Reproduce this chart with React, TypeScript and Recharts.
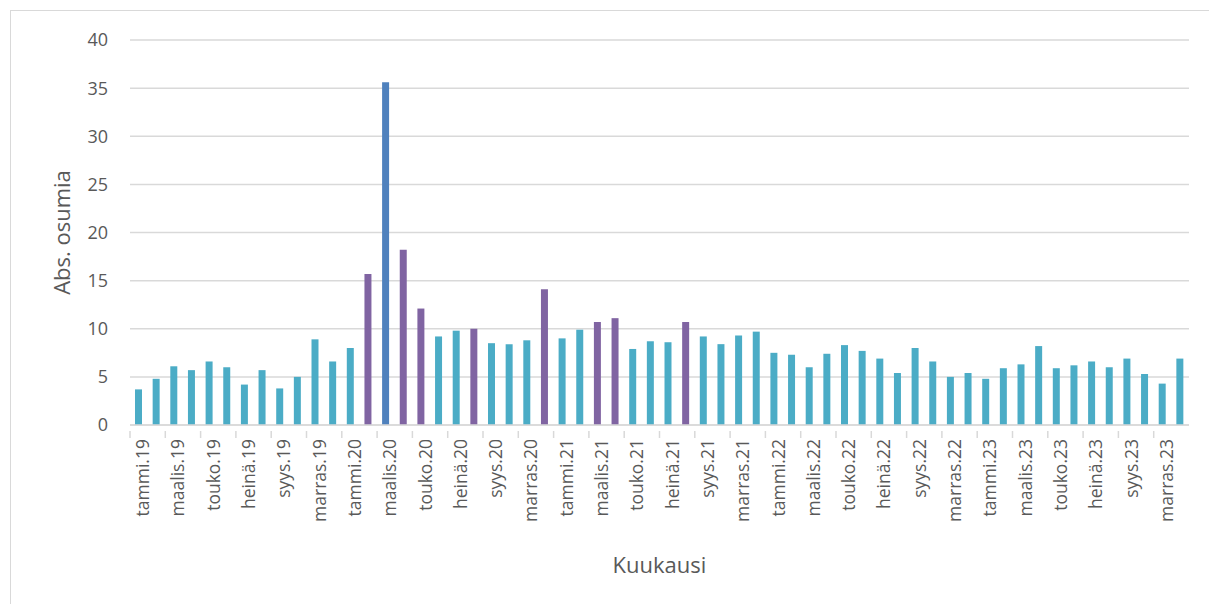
import React from 'react';
import { BarChart, Bar, XAxis, YAxis, CartesianGrid, Cell, Label } from 'recharts';

const MONTHS = ['tammi', 'helmi', 'maalis', 'huhti', 'touko', 'kesä', 'heinä', 'elo', 'syys', 'loka', 'marras', 'joulu'];
const YEARS = ['19', '20', '21', '22', '23'];

const HITS_2019 = [3.7, 4.8, 6.1, 5.7, 6.6, 6.0, 4.2, 5.7, 3.8, 5.0, 8.9, 6.6];
const HITS_2020 = [8.0, 15.7, 35.6, 18.2, 12.1, 9.2, 9.8, 10.0, 8.5, 8.4, 8.8, 14.1];
const HITS_2021 = [9.0, 9.9, 10.7, 11.1, 7.9, 8.7, 8.6, 10.7, 9.2, 8.4, 9.3, 9.7];
const HITS_2022 = [7.5, 7.3, 6.0, 7.4, 8.3, 7.7, 6.9, 5.4, 8.0, 6.6, 5.0, 5.4];
const HITS_2023 = [4.8, 5.9, 6.3, 8.2, 5.9, 6.2, 6.6, 6.0, 6.9, 5.3, 4.3, 6.9];

// highlighted months (purple), peak month (blue)
const HIGHLIGHT = ['helmi.20', 'huhti.20', 'touko.20', 'elo.20', 'joulu.20', 'maalis.21', 'huhti.21', 'elo.21'];
const PEAK = ['maalis.20'];

const Y_TICKS = [0, 5, 10, 15, 20, 25, 30, 35, 40];

const TEAL = '#4BACC6';
const PURPLE = '#8064A2';
const BLUE = '#4F81BD';
const GRID = '#D9D9D9';
const TEXT = '#595959';
const FONT = '"Open Sans", "Liberation Sans", sans-serif';

const allValues = [HITS_2019, HITS_2020, HITS_2021, HITS_2022, HITS_2023];
const data = YEARS.flatMap((yr, yi) =>
  MONTHS.map((m, mi) => ({ month: `${m}.${yr}`, value: allValues[yi][mi] }))
);

const colorFor = (month: string) =>
  PEAK.includes(month) ? BLUE : HIGHLIGHT.includes(month) ? PURPLE : TEAL;

const PLOT_LEFT = 130;
const PLOT_RIGHT = 1189;
const BAND = (PLOT_RIGHT - PLOT_LEFT) / data.length;

const MonthTick = (props: any) => {
  const { x, y, payload, index } = props;
  const left = x - BAND / 2;
  return (
    <g>
      <line x1={left} y1={y - 8} x2={left} y2={y - 1} stroke={GRID} strokeWidth={1.5} />
      {index === data.length - 2 && (
        <line x1={left + 2 * BAND} y1={y - 8} x2={left + 2 * BAND} y2={y - 1} stroke={GRID} strokeWidth={1.5} />
      )}
      <text
        x={x + 4}
        y={y}
        transform={`rotate(-90, ${x + 4}, ${y})`}
        textAnchor="end"
        dy="0.36em"
        fill={TEXT}
        fontSize={17.5}
        fontFamily={FONT}
      >
        {payload.value}
      </text>
    </g>
  );
};

export default function App() {
  return (
    <div style={{ position: 'relative', width: 1209, height: 604, overflow: 'hidden', background: '#fff' }}>
      <style>{`body{margin:0;overflow:hidden}`}</style>
      <div
        style={{
          position: 'absolute',
          left: 10,
          top: 10,
          width: 1240,
          height: 640,
          border: `1.5px solid ${GRID}`,
          boxSizing: 'border-box',
        }}
      />
      <div style={{ position: 'absolute', left: 0, top: 0 }}>
        <BarChart
          width={1209}
          height={604}
          data={data}
          margin={{ top: 40, right: 1209 - PLOT_RIGHT, bottom: 0, left: 0 }}
          barCategoryGap="60%"
        >
          <CartesianGrid vertical={false} stroke={GRID} strokeWidth={1.5} />
          <XAxis
            dataKey="month"
            interval={1}
            height={179}
            tickLine={false}
            axisLine={{ stroke: GRID, strokeWidth: 1.5 }}
            tick={<MonthTick />}
            tickMargin={8}
          >
            <Label
              value="Kuukausi"
              position="insideBottom"
              offset={31}
              fill={TEXT}
              fontSize={22}
              fontFamily={FONT}
            />
          </XAxis>
          <YAxis
            width={PLOT_LEFT}
            domain={[0, 40]}
            ticks={Y_TICKS}
            axisLine={false}
            tickLine={false}
            tickSize={0}
            tickMargin={22}
            tick={{ fill: TEXT, fontSize: 18, fontFamily: FONT }}
          >
            <Label
              value="Abs. osumia"
              angle={-90}
              position="insideLeft"
              offset={62}
              fill={TEXT}
              fontSize={22}
              fontFamily={FONT}
              style={{ textAnchor: 'middle' }}
            />
          </YAxis>
          <Bar dataKey="value" barSize={7} isAnimationActive={false}>
            {data.map((d) => (
              <Cell key={d.month} fill={colorFor(d.month)} />
            ))}
          </Bar>
        </BarChart>
      </div>
    </div>
  );
}
